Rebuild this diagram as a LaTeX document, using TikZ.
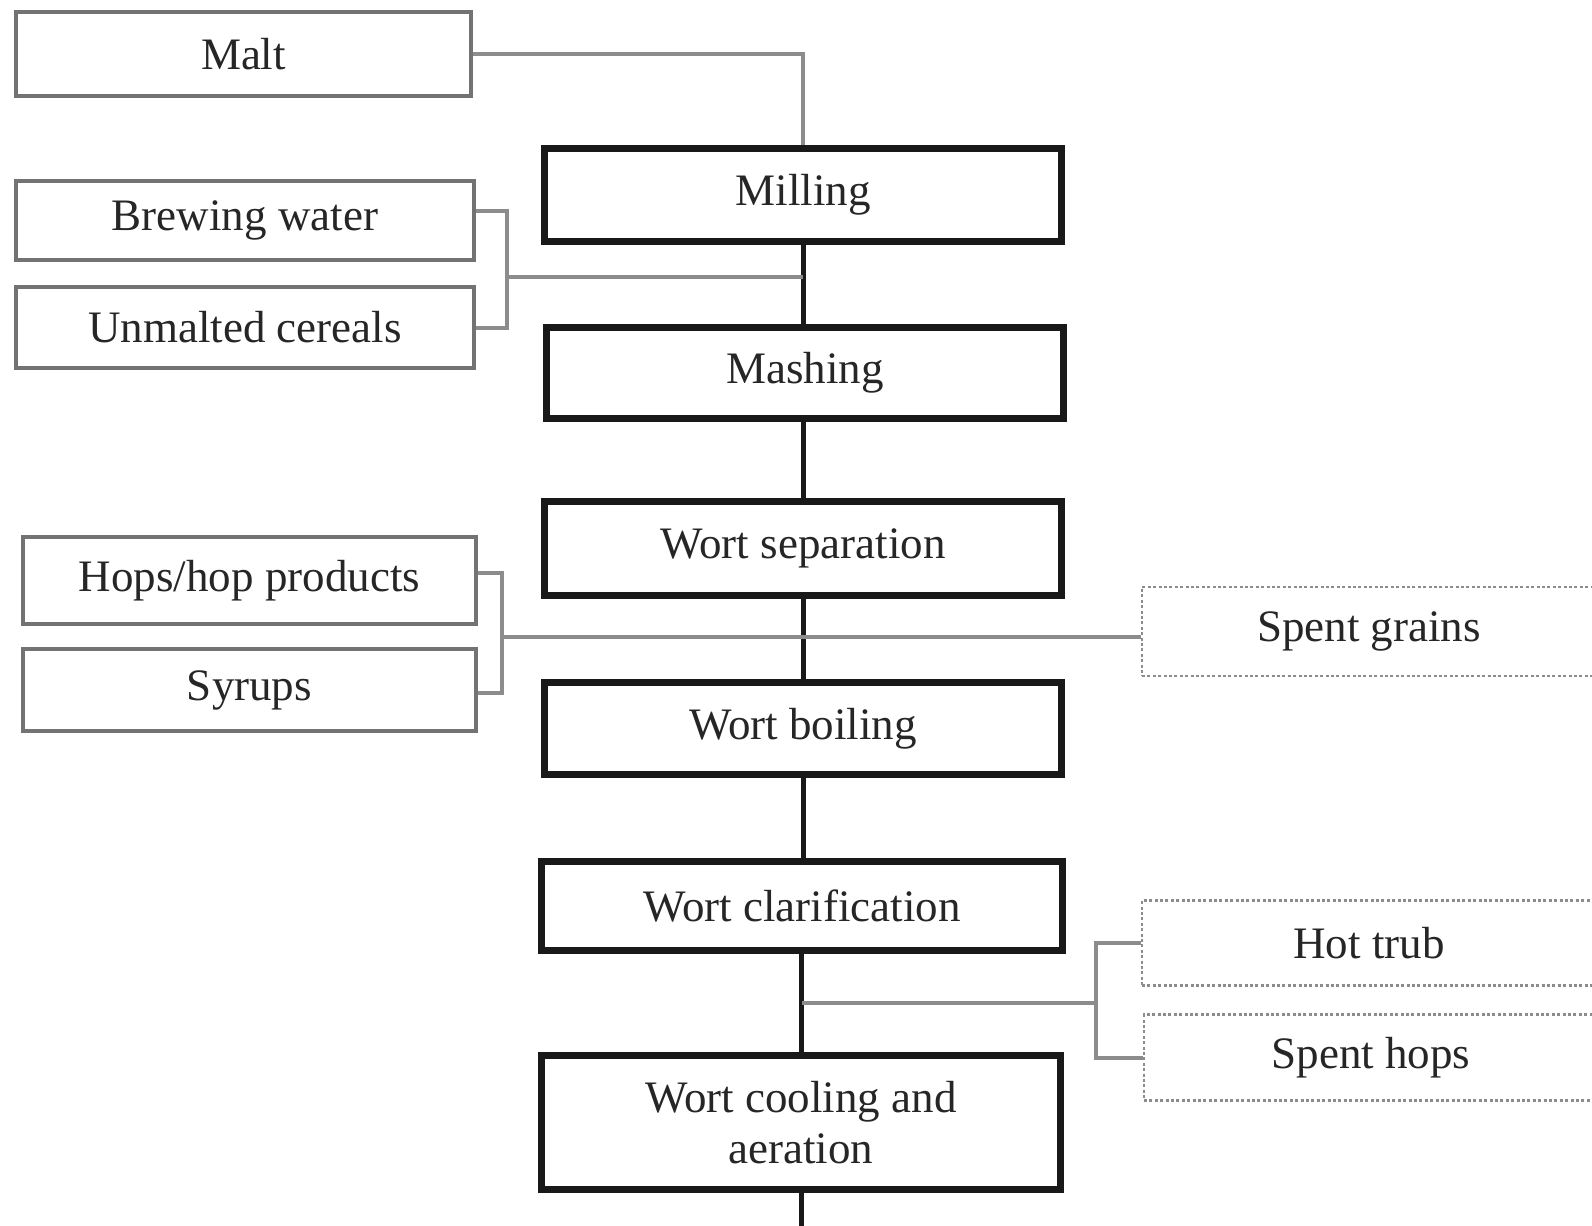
\documentclass[tikz,border=0pt]{standalone}
\usepackage{fontspec}
\setmainfont{Liberation Serif}
\begin{document}
\begin{tikzpicture}[x=0.5pt,y=-0.5pt,
  every node/.style={font=\fontsize{22.5}{25.5}\selectfont, inner sep=0pt, align=center, text=black!85},
  mainbox/.style={draw=black!90, line width=3.5pt, fill=white, minimum width=258.5pt},
  inbox/.style={draw=black!55, line width=2pt, fill=white},
  outbox/.style={draw=black!45, line width=1.3pt, dash pattern=on 1.5pt off 1.2pt, fill=white, minimum width=227pt},
  mainline/.style={draw=black!90, line width=2.5pt},
  feed/.style={draw=black!45, line width=2pt}]
\useasboundingbox (0,0) rectangle (1592,1226);
\clip (0,0) rectangle (1592,1226);

% main process boxes
\node[mainbox, minimum height=46.5pt] (milling) at (803,195) {Milling};
\node[mainbox, minimum height=45.5pt] (mashing) at (805,373) {Mashing};
\node[mainbox, minimum height=47pt] (sep) at (803,548) {Wort separation};
\node[mainbox, minimum height=46pt] (boil) at (803,728.5) {Wort boiling};
\node[mainbox, minimum height=44.5pt, minimum width=260.5pt] (clar) at (802,906) {Wort clarification};
\node[mainbox, minimum height=67pt, minimum width=259.5pt] (cool) at (801,1122.5) {Wort cooling and\\aeration};

% inputs
\node[inbox, minimum width=227.5pt, minimum height=42pt] (malt) at (243.5,54) {Malt};
\node[inbox, minimum width=229pt, minimum height=39.5pt] (water) at (245,220.5) {Brewing water};
\node[inbox, minimum width=229pt, minimum height=40.5pt] (cereals) at (245,327.5) {Unmalted cereals};
\node[inbox, minimum width=226.5pt, minimum height=43.5pt] (hops) at (249.5,580.5) {Hops/hop products};
\node[inbox, minimum width=226.5pt, minimum height=41pt] (syrups) at (249.5,690) {Syrups};

% outputs
\node[outbox, minimum height=44.5pt] (grains) at (1369,631.5) {Spent grains};
\node[outbox, minimum height=42.5pt] (trub) at (1369,943) {Hot trub};
\node[outbox, minimum height=43pt] (spenthops) at (1371,1057.5) {Spent hops};

% junction coordinates
\coordinate (j1) at (507,277);
\coordinate (j2) at (502,637);
\coordinate (j3) at (1096,1003);
\coordinate (bottom) at (801,1240);

% main line
\draw[mainline] (milling.south) -- (milling.south |- mashing.north);
\draw[mainline] (mashing.south -| sep.north) -- (sep.north);
\draw[mainline] (sep.south) -- (boil.north);
\draw[mainline] (boil.south) -- (boil.south |- clar.north);
\draw[mainline] (clar.south -| cool.north) -- (cool.north);
\draw[mainline] (cool.south) -- (bottom);

% feeds
\draw[feed] (malt.east) -| (milling.north);
\draw[feed] ([yshift=5pt]water.east) -| (j1) |- (cereals.east);
\draw[feed] (j1) -- (j1 -| milling.south);
\draw[feed] ([yshift=4pt]hops.east) -| (j2) |- ([yshift=-1.5pt]syrups.east);
\draw[feed] (j2) -- (j2 -| grains.west);
\draw[feed] (trub.west) -| (j3) |- (spenthops.west);
\draw[feed] (j3) -- (j3 -| clar.south);
\end{tikzpicture}
\end{document}
